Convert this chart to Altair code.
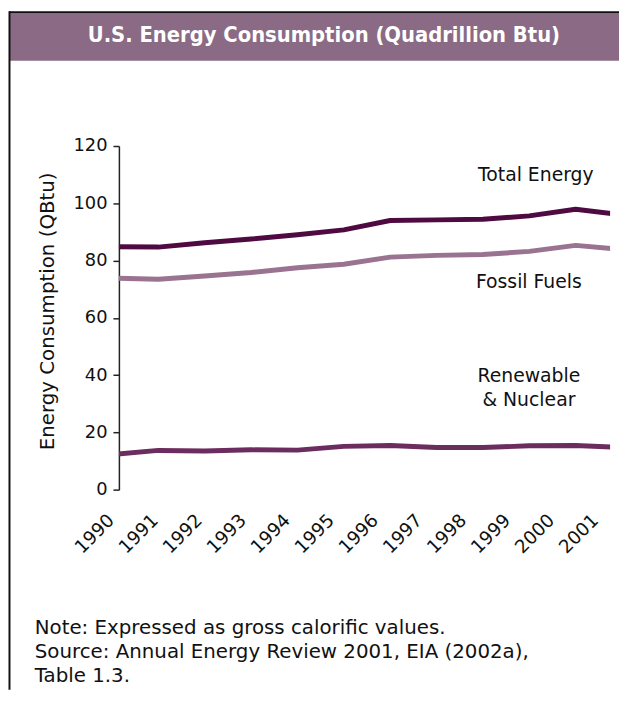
import altair as alt
import pandas as pd

# ---- data ----
years = list(range(1990, 2002))
total_energy = [84.8, 84.7, 86.2, 87.5, 89.0, 90.7, 94.0, 94.2, 94.4, 95.6, 97.9, 96.0]
fossil_fuels = [73.9, 73.5, 74.6, 75.8, 77.5, 78.7, 81.2, 81.8, 82.1, 83.2, 85.3, 83.9]
renewable_nuclear = [12.3, 13.7, 13.5, 13.9, 13.8, 15.1, 15.4, 14.7, 14.7, 15.3, 15.4, 14.7]

series_names = ["Total Energy", "Fossil Fuels", "Renewable & Nuclear"]
series_colors = ["#4e0a41", "#9a7391", "#6b2c5f"]
y_ticks = [0, 20, 40, 60, 80, 100, 120]
year_labels = [str(y) for y in years]

title_text = "U.S. Energy Consumption (Quadrillion Btu)"
y_title = "Energy Consumption (QBtu)"
note_lines = [
    "Note: Expressed as gross calorific values.",
    "Source: Annual Energy Review 2001, EIA (2002a),",
    "Table 1.3.",
]

FONT = "DejaVu Sans"
TITLE_FONT = "DejaVu Sans Condensed, Liberation Sans"
PURPLE = "#8a6a84"
INK = "#111111"

# ---- tables ----
rows = []
for name, vals in zip(series_names, [total_energy, fossil_fuels, renewable_nuclear]):
    for y, v in zip(years, vals):
        rows.append({"year": y, "value": v, "series": name})
df = pd.DataFrame(rows)
lab_df = pd.DataFrame({"year": years, "label": year_labels})
dummy = pd.DataFrame({"d": [0]})

# ---- layers ----
lines = alt.Chart(df).mark_line(strokeWidth=5, clip=True, strokeJoin="round").encode(
    x=alt.X("year:Q", scale=alt.Scale(domain=[1990, 2001], range=[-7, 508], nice=False, zero=False), axis=None),
    y=alt.Y(
        "value:Q",
        scale=alt.Scale(domain=[0, 120], nice=False),
        axis=alt.Axis(
            values=y_ticks, title=None, grid=False,
            domainColor="#222222", domainWidth=1.5,
            tickColor="#222222", tickWidth=1.5, tickSize=6,
            labelFont=FONT, labelFontSize=18, labelColor=INK, labelPadding=6,
        ),
    ),
    color=alt.Color("series:N", scale=alt.Scale(domain=series_names, range=series_colors), legend=None),
    detail="series:N",
)

year_text = alt.Chart(lab_df).mark_text(
    angle=315, align="right", baseline="middle", font=FONT, fontSize=18.5, color=INK
).encode(
    x=alt.X("year:Q", scale=alt.Scale(domain=[1990, 2001], range=[-8, 481], nice=False, zero=False), axis=None),
    y=alt.value(375),
    text="label:N",
)

bar = alt.Chart(dummy).mark_rect(color=PURPLE).encode(
    x=alt.value(-110), x2=alt.value(505), y=alt.value(-134), y2=alt.value(-86)
)
top_line = alt.Chart(dummy).mark_rule(color=INK, strokeWidth=2).encode(
    x=alt.value(-111), x2=alt.value(505), y=alt.value(-135)
)
left_line = alt.Chart(dummy).mark_rule(color=INK, strokeWidth=2).encode(
    x=alt.value(-110.5), y=alt.value(-136), y2=alt.value(549)
)
title = alt.Chart(dummy).mark_text(
    font=TITLE_FONT, fontSize=22, fontWeight="bold", color="white", align="center", baseline="middle"
).encode(x=alt.value(207), y=alt.value(-112), text=alt.value(title_text))

ytitle = alt.Chart(dummy).mark_text(
    font=FONT, fontSize=20, color=INK, angle=270, align="center", baseline="middle"
).encode(x=alt.value(-72), y=alt.value(167), text=alt.value(y_title))

ann_style = dict(font=FONT, fontSize=19, color=INK, align="center", baseline="middle")
ann_total = alt.Chart(dummy).mark_text(**ann_style).encode(
    x=alt.value(421), y=alt.value(29), text=alt.value(series_names[0]))
ann_fossil = alt.Chart(dummy).mark_text(**ann_style).encode(
    x=alt.value(414), y=alt.value(137), text=alt.value(series_names[1]))
ann_ren = alt.Chart(dummy).mark_text(lineHeight=25, **ann_style).encode(
    x=alt.value(414), y=alt.value(232), text=alt.value(["Renewable", "& Nuclear"]))

note = alt.Chart(dummy).mark_text(
    font=FONT, fontSize=20, color=INK, align="left", baseline="top", lineHeight=24
).encode(x=alt.value(-85), y=alt.value(477), text=alt.value(note_lines))

chart = alt.layer(
    bar, top_line, left_line, title, ytitle, lines, year_text, ann_total, ann_fossil, ann_ren, note
).resolve_scale(x="independent").properties(
    width=496, height=347,
    autosize=alt.AutoSizeParams(type="none"),
    padding={"left": 112, "top": 136, "right": 9, "bottom": 202},
    background="white",
).configure_view(stroke=None)

chart.save("out.html", embed_options={"renderer": "svg", "actions": False})
